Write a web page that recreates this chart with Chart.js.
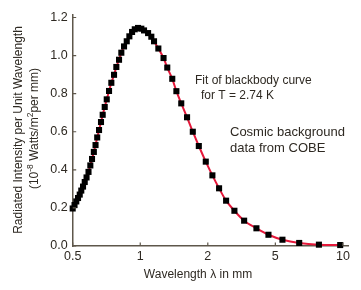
<!DOCTYPE html>
<html>
<head>
<meta charset="utf-8">
<script src="https://cdn.jsdelivr.net/npm/chart.js@4"></script>
<style>
  html, body { margin: 0; padding: 0; background: #fff; }
  canvas { display: block; }
</style>
</head>
<body>
<canvas id="chartCobe" width="361" height="290"></canvas>
<script>
// Axis ticks: the x axis has evenly spaced ticks labelled 0.5, 1, 2, 5, 10
const xTickPos = [0, 1, 2, 3, 4];
const xTickLabels = ['0.5', '1', '2', '5', '10'];
const yTickValues = [0, 0.2, 0.4, 0.6, 0.8, 1.0, 1.2];

// COBE points, position along the x axis (tick units) and intensity
const xPos = [0, 0.027, 0.053, 0.079, 0.104, 0.127, 0.153, 0.178, 0.205, 0.234,
  0.261, 0.286, 0.313, 0.338, 0.363, 0.39, 0.419, 0.444, 0.474, 0.504,
  0.538, 0.572, 0.612, 0.646, 0.686, 0.72, 0.76, 0.8, 0.839, 0.879,
  0.919, 0.967, 1.016, 1.056, 1.116, 1.164, 1.204, 1.268, 1.345, 1.4,
  1.474, 1.535, 1.607, 1.693, 1.778, 1.867, 1.97, 2.068, 2.167, 2.271,
  2.394, 2.538, 2.72, 2.898, 3.105, 3.353, 3.645, 3.96];
const intensity = [0.197, 0.215, 0.234, 0.252, 0.270, 0.291, 0.312, 0.336, 0.360, 0.389,
  0.423, 0.457, 0.494, 0.530, 0.570, 0.609, 0.651, 0.689, 0.730, 0.770,
  0.814, 0.857, 0.899, 0.940, 0.978, 1.015, 1.048, 1.075, 1.101, 1.124,
  1.138, 1.145, 1.141, 1.132, 1.118, 1.099, 1.075, 1.037, 0.987, 0.937,
  0.878, 0.813, 0.749, 0.676, 0.600, 0.525, 0.443, 0.371, 0.303, 0.238,
  0.185, 0.133, 0.093, 0.059, 0.033, 0.016, 0.007, 0.005];

(function() {
  'use strict';

  const FONT = "'Liberation Sans', Arial, sans-serif";
  const TEXT = '#2e2922';
  const AXIS = '#5e574b';

  // Ticks drawn on the inside of the axes + free text
  const decorPlugin = {
    id: 'decor',
    afterDraw(chart) {
      const ctx = chart.ctx;
      const area = chart.chartArea;
      const xs = chart.scales.x;
      const ys = chart.scales.y;
      ctx.save();
      ctx.strokeStyle = AXIS;
      ctx.lineWidth = 1.2;
      ctx.beginPath();
      xTickPos.forEach(v => {
        const px = xs.getPixelForValue(v);
        ctx.moveTo(px, area.bottom);
        ctx.lineTo(px, area.bottom - 3.5);
      });
      yTickValues.forEach(v => {
        const py = ys.getPixelForValue(v);
        ctx.moveTo(area.left, py);
        ctx.lineTo(area.left + 3.5, py);
      });
      ctx.stroke();

      ctx.fillStyle = TEXT;
      ctx.textBaseline = 'alphabetic';
      ctx.textAlign = 'left';

      // annotations
      ctx.font = '12px ' + FONT;
      ctx.fillText('Fit of blackbody curve', 195, 84);
      ctx.fillText('for T = 2.74 K', 201, 98.5);
      ctx.font = '13px ' + FONT;
      ctx.fillText('Cosmic background', 230, 135.5);
      ctx.fillText('data from COBE', 230, 151.5);

      // x axis title
      ctx.font = '12px ' + FONT;
      ctx.textAlign = 'center';
      ctx.fillText('Wavelength \u03bb in mm', 198, 277.5);

      // y axis title, two rotated lines, second one with superscripts
      ctx.save();
      ctx.translate(21.5, 130);
      ctx.rotate(-Math.PI / 2);
      ctx.fillText('Radiated Intensity per Unit Wavelength', 0, 0);
      ctx.restore();

      const parts = [
        { t: '(10', sup: false },
        { t: '-8', sup: true },
        { t: ' Watts/m', sup: false },
        { t: '2', sup: true },
        { t: 'per mm)', sup: false }
      ];
      const fontFor = p => (p.sup ? '8.5px ' : '12px ') + FONT;
      let total = 0;
      parts.forEach(p => { ctx.font = fontFor(p); total += ctx.measureText(p.t).width; });
      ctx.save();
      ctx.translate(38, 128.5);
      ctx.rotate(-Math.PI / 2);
      ctx.textAlign = 'left';
      let cx = -total / 2;
      parts.forEach(p => {
        ctx.font = fontFor(p);
        ctx.fillText(p.t, cx, p.sup ? -5 : 0);
        cx += ctx.measureText(p.t).width;
      });
      ctx.restore();

      ctx.restore();
    }
  };

  const canvas = document.getElementById('chartCobe');
  new Chart(canvas.getContext('2d'), {
    type: 'line',
    data: {
      datasets: [{
        label: 'COBE',
        data: xPos.map((x, i) => ({ x: x, y: intensity[i] })),
        borderColor: '#e5183a',
        borderWidth: 2,
        tension: 0.3,
        pointStyle: 'rect',
        pointRadius: 4.3,
        pointBackgroundColor: '#000',
        pointBorderColor: '#000',
        pointBorderWidth: 0,
        clip: false
      }]
    },
    options: {
      responsive: false,
      devicePixelRatio: 1,
      animation: false,
      events: [],
      layout: { padding: { left: 0, right: 12.7, top: 15, bottom: 0 } },
      plugins: {
        legend: { display: false },
        tooltip: { enabled: false }
      },
      scales: {
        x: {
          type: 'linear',
          min: 0,
          max: 4.08,
          afterFit: s => { s.height = 44; },
          afterBuildTicks: s => { s.ticks = xTickPos.map(v => ({ value: v })); },
          grid: { display: false, drawTicks: false },
          border: { display: true, color: AXIS, width: 1.5 },
          ticks: {
            padding: 3,
            color: TEXT,
            font: { family: FONT, size: 12.5 },
            callback: (v, i) => xTickLabels[i]
          }
        },
        y: {
          type: 'linear',
          min: 0,
          max: 1.213,
          afterFit: s => { s.width = 72.7; },
          afterBuildTicks: s => { s.ticks = yTickValues.map(v => ({ value: v })); },
          grid: { display: false, drawTicks: false },
          border: { display: true, color: AXIS, width: 1.5 },
          ticks: {
            padding: 5,
            color: TEXT,
            font: { family: FONT, size: 12.5 },
            callback: v => v.toFixed(1)
          }
        }
      }
    },
    plugins: [decorPlugin]
  });
})();
</script>
</body>
</html>
